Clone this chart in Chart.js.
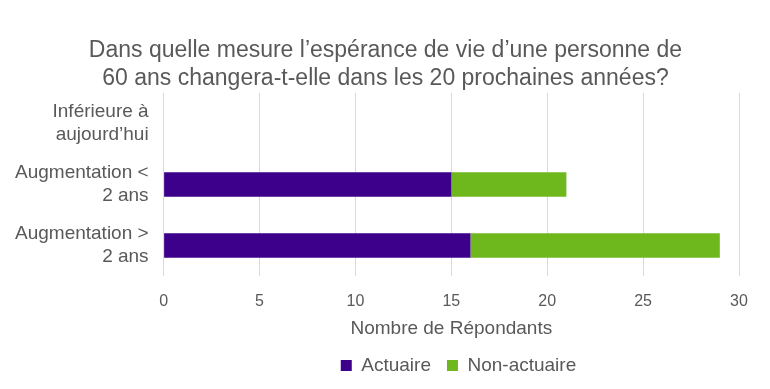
<!DOCTYPE html>
<html lang="fr">
<head>
    <meta charset="UTF-8"/>
    <title>Espérance de vie</title>
    <script src="https://cdn.jsdelivr.net/npm/chart.js"></script>
    <style>
        html, body {
            margin: 0;
            padding: 0;
            background: #fff;
            width: 770px;
            height: 389px;
            overflow: hidden;
        }
        .wrap {
            width: 770px;
            height: 389px;
            position: relative;
        }
    </style>
</head>
<body>
<div class="wrap">
    <canvas id="chart"></canvas>
</div>
<script>
    const categories = [
        ['Inférieure à', 'aujourd\u2019hui'],
        ['Augmentation <', '2 ans'],
        ['Augmentation >', '2 ans']
    ];
    const actuaire = [0, 15, 16];
    const nonActuaire = [0, 6, 13];
    const xTicks = [0, 5, 10, 15, 20, 25, 30];

    const grey = '#595959';
    const font = 'Liberation Sans, Arial, sans-serif';

    // title is centred on the page, legend sits a bit right of it, like the original
    const nudge = {
        id: 'nudge',
        afterLayout(chart) {
            chart.titleBlock.left += 12;
            chart.titleBlock.right += 12;
            chart.legend.left += 85;
            chart.legend.right += 85;
        }
    };

    new Chart(document.getElementById('chart'), {
        type: 'bar',
        data: {
            labels: categories,
            datasets: [
                {
                    label: 'Actuaire',
                    data: actuaire,
                    backgroundColor: '#3d008b',
                    borderWidth: 0
                },
                {
                    label: 'Non-actuaire',
                    data: nonActuaire,
                    backgroundColor: '#6eb81e',
                    borderWidth: 0
                }
            ]
        },
        options: {
            indexAxis: 'y',
            responsive: true,
            maintainAspectRatio: false,
            animation: false,
            categoryPercentage: 1,
            barPercentage: 0.4,
            layout: {padding: {left: 8, right: 31, top: 10, bottom: 4}},
            scales: {
                x: {
                    stacked: true,
                    min: 0,
                    max: xTicks[xTicks.length - 1],
                    afterBuildTicks: axis => { axis.ticks = xTicks.map(v => ({value: v})); },
                    afterFit: axis => { axis.height = 64; },
                    grid: {color: '#d9d9d9', lineWidth: 1, drawTicks: false},
                    border: {display: false},
                    ticks: {color: grey, font: {family: font, size: 16}, padding: 16, maxRotation: 0, minRotation: 0},
                    title: {
                        display: true,
                        text: 'Nombre de Répondants',
                        color: grey,
                        font: {family: font, size: 19},
                        padding: {top: 8, bottom: 0}
                    }
                },
                y: {
                    stacked: true,
                    grid: {display: false},
                    border: {display: false},
                    ticks: {color: grey, font: {family: font, size: 19, lineHeight: 1.2}, padding: 7}
                }
            },
            plugins: {
                title: {
                    display: true,
                    text: ['Dans quelle mesure l\u2019espérance de vie d\u2019une personne de', '60 ans changera-t-elle dans les 20 prochaines années?'],
                    color: grey,
                    font: {family: font, size: 23, weight: 'normal', lineHeight: 1.22},
                    padding: {top: 27, bottom: 0}
                },
                legend: {
                    position: 'bottom',
                    labels: {
                        color: grey,
                        font: {family: font, size: 19},
                        usePointStyle: true,
                        pointStyle: 'rect',
                        boxWidth: 11,
                        boxHeight: 11,
                        padding: 16
                    }
                },
                tooltip: {enabled: false}
            }
        },
        plugins: [nudge]
    });
</script>
</body>
</html>
